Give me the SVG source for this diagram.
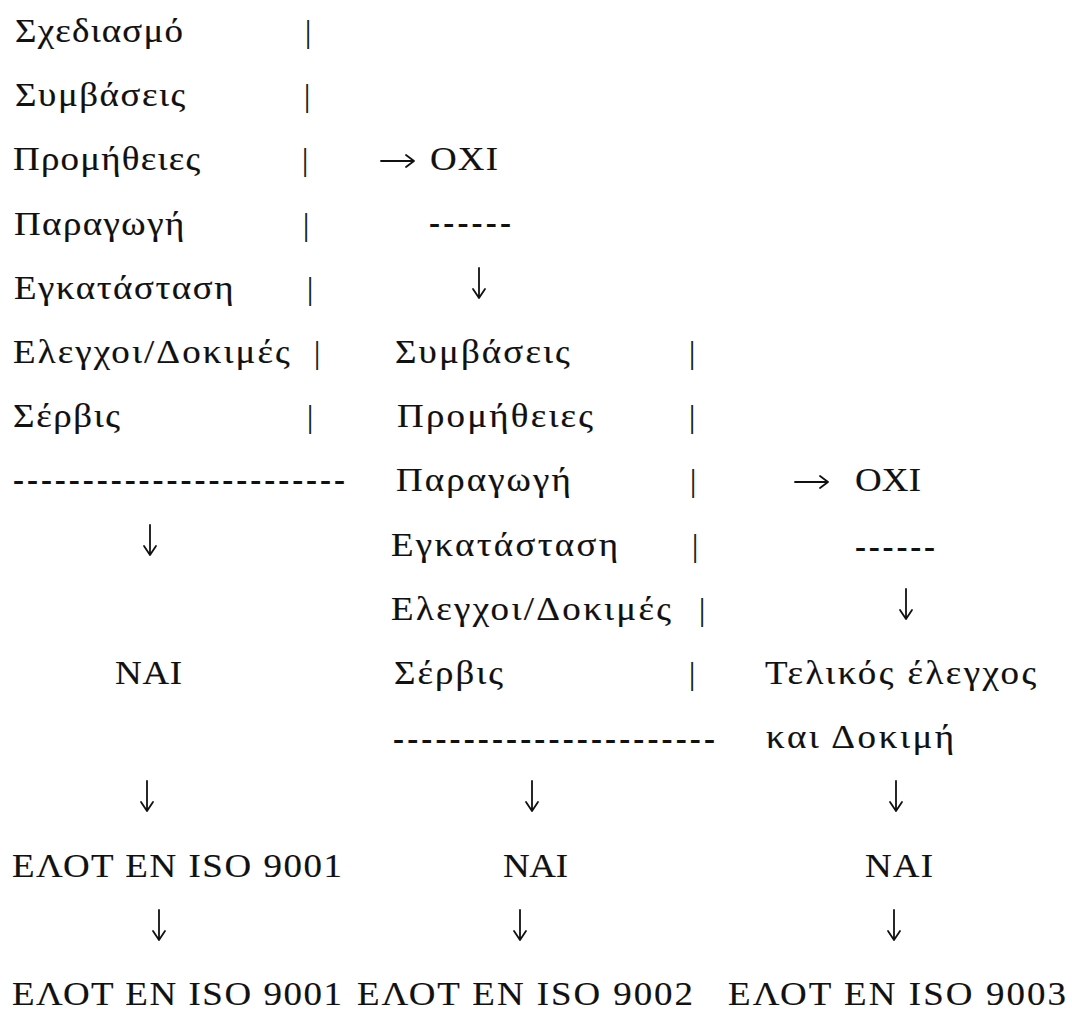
<svg xmlns="http://www.w3.org/2000/svg" width="1072" height="1011" viewBox="0 0 1072 1011">
<style>
text{font-family:"Liberation Serif","Times New Roman",serif;font-size:33px;fill:#111;stroke:#111;stroke-width:0.15;}
.bar{text-anchor:middle;font-size:31px;stroke-width:0.2;}
.dash{font-weight:bold;stroke-width:0;}
.arr{fill:none;stroke:#111;stroke-width:1.8;stroke-linecap:round;stroke-linejoin:round;}
</style>
<defs>
<path id="down" class="arr" d="M0,-31 L0,-1 M-6,-10 L0,-1 L6,-10"/>
<path id="right" class="arr" d="M0,-9 L33,-9 M25,-15 L33,-9 L25,-3"/>
</defs>
<rect width="1072" height="1011" fill="#fff"/>
<g id="column1">
<g id="n-sxediasmo"><text transform="matrix(1.12 0 0 1 15 0)" x="0" y="42" textLength="150" lengthAdjust="spacing">Σχεδιασμό</text><text class="bar" x="308" y="42">|</text></g>
<g id="n-symvaseis1"><text transform="matrix(1.12 0 0 1 15 0)" x="0" y="106" textLength="152" lengthAdjust="spacing">Συμβάσεις</text><text class="bar" x="307" y="106">|</text></g>
<g id="n-promitheies1"><text transform="matrix(1.12 0 0 1 13 0)" x="0" y="170" textLength="167" lengthAdjust="spacing">Προμήθειες</text><text class="bar" x="305" y="170">|</text></g>
<g id="n-paragogi1"><text transform="matrix(1.12 0 0 1 14 0)" x="0" y="235" textLength="152" lengthAdjust="spacing">Παραγωγή</text><text class="bar" x="306" y="235">|</text></g>
<g id="n-egkatastasi1"><text transform="matrix(1.12 0 0 1 14 0)" x="0" y="299" textLength="196" lengthAdjust="spacing">Εγκατάσταση</text><text class="bar" x="310" y="299">|</text></g>
<g id="n-elegxoi1"><text transform="matrix(1.12 0 0 1 13 0)" x="0" y="363" textLength="247" lengthAdjust="spacing">Ελεγχοι/Δοκιμές</text><text class="bar" x="317" y="363">|</text></g>
<g id="n-servis1"><text transform="matrix(1.12 0 0 1 13 0)" x="0" y="427" textLength="95.5" lengthAdjust="spacing">Σέρβις</text><text class="bar" x="310" y="427">|</text></g>
<g id="n-dashes1"><text class="dash" x="13" y="491" textLength="332" lengthAdjust="spacing">------------------------</text></g>
<g id="n-nai1"><text transform="matrix(1.12 0 0 1 115 0)" x="0" y="684" textLength="60" lengthAdjust="spacing">NAI</text></g>
<g id="n-elot1a"><text transform="matrix(1.12 0 0 1 12 0)" x="0" y="877" textLength="294.6" lengthAdjust="spacing">ΕΛΟΤ EN ISO 9001</text></g>
<g id="n-elot1b"><text transform="matrix(1.12 0 0 1 12 0)" x="0" y="1005" textLength="294.6" lengthAdjust="spacing">ΕΛΟΤ EN ISO 9001</text></g>
</g>
<g id="column-mid">
<g id="n-oxi1"><text transform="matrix(1.12 0 0 1 430 0)" x="0" y="170" textLength="60.7" lengthAdjust="spacing">OXI</text></g>
<g id="n-dashes-oxi1"><text class="dash" x="429" y="234" textLength="82" lengthAdjust="spacing">------</text></g>
</g>
<g id="column2">
<g id="n-symvaseis2"><text transform="matrix(1.12 0 0 1 395 0)" x="0" y="363" textLength="156" lengthAdjust="spacing">Συμβάσεις</text><text class="bar" x="692" y="363">|</text></g>
<g id="n-promitheies2"><text transform="matrix(1.12 0 0 1 397 0)" x="0" y="427" textLength="175" lengthAdjust="spacing">Προμήθειες</text><text class="bar" x="692" y="427">|</text></g>
<g id="n-paragogi2"><text transform="matrix(1.12 0 0 1 396 0)" x="0" y="491" textLength="156" lengthAdjust="spacing">Παραγωγή</text><text class="bar" x="693" y="491">|</text></g>
<g id="n-egkatastasi2"><text transform="matrix(1.12 0 0 1 391 0)" x="0" y="556" textLength="202.7" lengthAdjust="spacing">Εγκατάσταση</text><text class="bar" x="695" y="556">|</text></g>
<g id="n-elegxoi2"><text transform="matrix(1.12 0 0 1 391 0)" x="0" y="620" textLength="250" lengthAdjust="spacing">Ελεγχοι/Δοκιμές</text><text class="bar" x="702" y="620">|</text></g>
<g id="n-servis2"><text transform="matrix(1.12 0 0 1 394 0)" x="0" y="684" textLength="97.3" lengthAdjust="spacing">Σέρβις</text><text class="bar" x="692" y="684">|</text></g>
<g id="n-dashes2"><text class="dash" x="393" y="750" textLength="322" lengthAdjust="spacing">-----------------------</text></g>
<g id="n-nai2"><text transform="matrix(1.12 0 0 1 503 0)" x="0" y="877" textLength="58" lengthAdjust="spacing">NAI</text></g>
<g id="n-elot2"><text transform="matrix(1.12 0 0 1 357 0)" x="0" y="1005" textLength="300" lengthAdjust="spacing">ΕΛΟΤ EN ISO 9002</text></g>
</g>
<g id="column3">
<g id="n-oxi2"><text transform="matrix(1.12 0 0 1 855 0)" x="0" y="491" textLength="59" lengthAdjust="spacing">OXI</text></g>
<g id="n-dashes-oxi2"><text class="dash" x="855" y="558" textLength="80" lengthAdjust="spacing">------</text></g>
<g id="n-telikos"><text transform="matrix(1.12 0 0 1 765 0)" x="0" y="684" textLength="242" lengthAdjust="spacing">Τελικός έλεγχος</text></g>
<g id="n-kai-dokimi"><text transform="matrix(1.12 0 0 1 766 0)" x="0" y="748" textLength="168" lengthAdjust="spacing">και Δοκιμή</text></g>
<g id="n-nai3"><text transform="matrix(1.12 0 0 1 865 0)" x="0" y="877" textLength="60.7" lengthAdjust="spacing">NAI</text></g>
<g id="n-elot3"><text transform="matrix(1.12 0 0 1 728 0)" x="0" y="1005" textLength="301.8" lengthAdjust="spacing">ΕΛΟΤ EN ISO 9003</text></g>
</g>
<g id="connectors">
<use href="#right" x="381" y="170"/>
<use href="#right" x="795" y="491"/>
<use href="#down" x="479" y="299"/>
<use href="#down" x="150" y="556"/>
<use href="#down" x="906" y="620"/>
<use href="#down" x="147" y="812"/>
<use href="#down" x="532" y="812"/>
<use href="#down" x="896" y="812"/>
<use href="#down" x="159" y="941"/>
<use href="#down" x="520" y="941"/>
<use href="#down" x="894" y="941"/>
</g>
</svg>
